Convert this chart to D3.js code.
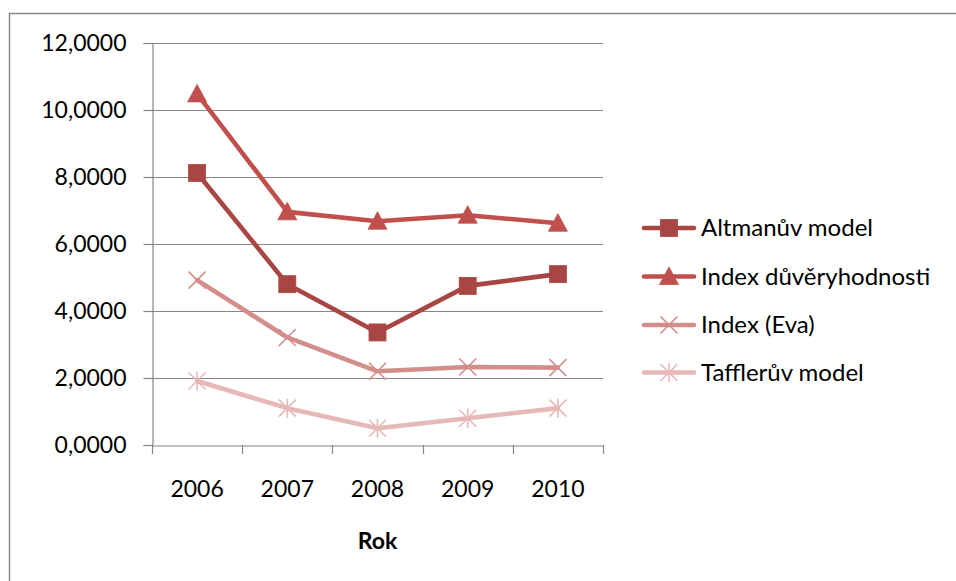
<!DOCTYPE html>
<html>
<head>
<meta charset="utf-8">
<script src="https://cdn.jsdelivr.net/npm/d3@7/dist/d3.min.js"></script>
<style>
  html, body { margin: 0; padding: 0; background: #fff; }
  svg { display: block; font-family: Lato, "Open Sans", sans-serif; }
</style>
</head>
<body>
<svg id="chart" width="956" height="581"></svg>
<script>
// Years on the category axis
const years = ["2006", "2007", "2008", "2009", "2010"];

// Series values per year
const altman = [8.12, 4.80, 3.36, 4.75, 5.10];
const indexDuv = [10.48, 6.96, 6.68, 6.86, 6.62];
const indexEva = [4.92, 3.21, 2.20, 2.33, 2.31];
const taffler = [1.91, 1.10, 0.50, 0.80, 1.10];

const seriesNames = ["Altmanův model", "Index důvěryhodnosti", "Index (Eva)", "Tafflerův model"];
const yTicks = [0, 2, 4, 6, 8, 10, 12];
const xTitle = "Rok";

const series = [
  { name: seriesNames[0], values: altman,   color: "#A84644", marker: "square" },
  { name: seriesNames[1], values: indexDuv, color: "#C0504D", marker: "triangle" },
  { name: seriesNames[2], values: indexEva, color: "#D38E8C", marker: "x" },
  { name: seriesNames[3], values: taffler,  color: "#E6B8B7", marker: "star" }
];

const svg = d3.select("#chart");
const plot = { left: 152, right: 603, top: 43, bottom: 445 };

const x = d3.scaleBand().domain(years).range([plot.left, plot.right]).paddingInner(0).paddingOuter(0);
const y = d3.scaleLinear().domain([0, 12]).range([plot.bottom, plot.top]);
const cx = d => x(d) + x.bandwidth() / 2;

const axisColor = "#868686";
const fmt = v => d3.format(".4f")(v).replace(".", ",");

// Outer frame of the chart area
svg.append("rect")
  .attr("x", 9.5).attr("y", 13.5)
  .attr("width", 1200).attr("height", 1200)
  .attr("fill", "none").attr("stroke", "#8a8a8a").attr("stroke-width", 1.5);

// Horizontal gridlines
svg.append("g")
  .selectAll("line")
  .data(yTicks.filter(t => t > 0))
  .join("line")
  .attr("x1", plot.left).attr("x2", plot.right)
  .attr("y1", d => Math.round(y(d)) + 0.5).attr("y2", d => Math.round(y(d)) + 0.5)
  .attr("stroke", axisColor).attr("stroke-width", 1.2);

// Y axis
const yAxis = svg.append("g")
  .attr("transform", `translate(${plot.left + 0.5},0)`)
  .call(d3.axisLeft(y).tickValues(yTicks).tickFormat(fmt).tickSize(9).tickPadding(17));
yAxis.select(".domain").attr("stroke", axisColor).attr("stroke-width", 1.2);
yAxis.selectAll(".tick line").attr("stroke", axisColor).attr("stroke-width", 1.2);
yAxis.selectAll(".tick text")
  .attr("fill", "#000").style("font-size", "23px").style("font-family", "Lato, sans-serif");

// X axis
const xAxis = svg.append("g")
  .attr("transform", `translate(0,${Math.round(plot.bottom) + 0.5})`)
  .call(d3.axisBottom(x).tickSize(0).tickPadding(35));
xAxis.select(".domain").attr("stroke", axisColor).attr("stroke-width", 1.2);
xAxis.selectAll(".tick text")
  .attr("fill", "#000").style("font-size", "23px").style("font-family", "Lato, sans-serif");

// Category boundary ticks
svg.append("g")
  .selectAll("line")
  .data(years.concat(["end"]))
  .join("line")
  .attr("x1", (d, i) => Math.round(plot.left + i * x.bandwidth()) + 0.5)
  .attr("x2", (d, i) => Math.round(plot.left + i * x.bandwidth()) + 0.5)
  .attr("y1", plot.bottom).attr("y2", plot.bottom + 9)
  .attr("stroke", axisColor).attr("stroke-width", 1.2);

// X axis title
svg.append("text")
  .attr("x", (plot.left + plot.right) / 2).attr("y", 549)
  .attr("text-anchor", "middle")
  .style("font-size", "23px").style("font-weight", "bold")
  .text(xTitle);

// Marker drawing
function drawMarker(g, type, color) {
  if (type === "square") {
    g.append("rect").attr("x", -8.5).attr("y", -8.5).attr("width", 17).attr("height", 17)
      .attr("fill", color).attr("stroke", color).attr("stroke-width", 0.8);
  } else if (type === "triangle") {
    g.append("path").attr("d", "M0,-9.5L9.5,8L-9.5,8Z")
      .attr("fill", color).attr("stroke", color).attr("stroke-width", 0.8);
  } else if (type === "x") {
    g.append("path").attr("d", "M-8.5,-8.5L8.5,8.5M-8.5,8.5L8.5,-8.5")
      .attr("stroke", color).attr("stroke-width", 1.6).attr("fill", "none");
  } else if (type === "star") {
    g.append("path").attr("d", "M-8.5,-8.5L8.5,8.5M-8.5,8.5L8.5,-8.5M0,-9.5L0,9.5")
      .attr("stroke", color).attr("stroke-width", 1.6).attr("fill", "none");
  }
}

const line = d3.line().x((d, i) => cx(years[i])).y(d => y(d));

// Draw series back to front so the first series sits on top
series.slice().reverse().forEach(s => {
  const g = svg.append("g");
  g.append("path")
    .attr("d", line(s.values))
    .attr("fill", "none").attr("stroke", s.color)
    .attr("stroke-width", 4.6).attr("stroke-linejoin", "round").attr("stroke-linecap", "round");
  s.values.forEach((v, i) => {
    const m = g.append("g").attr("transform", `translate(${cx(years[i])},${y(v)})`);
    drawMarker(m, s.marker, s.color);
  });
});

// Legend
const legendY = [228, 276.5, 325, 372.5];
series.forEach((s, i) => {
  const g = svg.append("g").attr("transform", `translate(0,${legendY[i]})`);
  g.append("line").attr("x1", 644).attr("x2", 694).attr("y1", 0).attr("y2", 0)
    .attr("stroke", s.color).attr("stroke-width", 4.6).attr("stroke-linecap", "round");
  const m = g.append("g").attr("transform", "translate(669,0)");
  drawMarker(m, s.marker, s.color);
  g.append("text").attr("x", 701).attr("y", 0).attr("dy", "0.35em")
    .style("font-size", "24px").text(s.name);
});
</script>
</body>
</html>
